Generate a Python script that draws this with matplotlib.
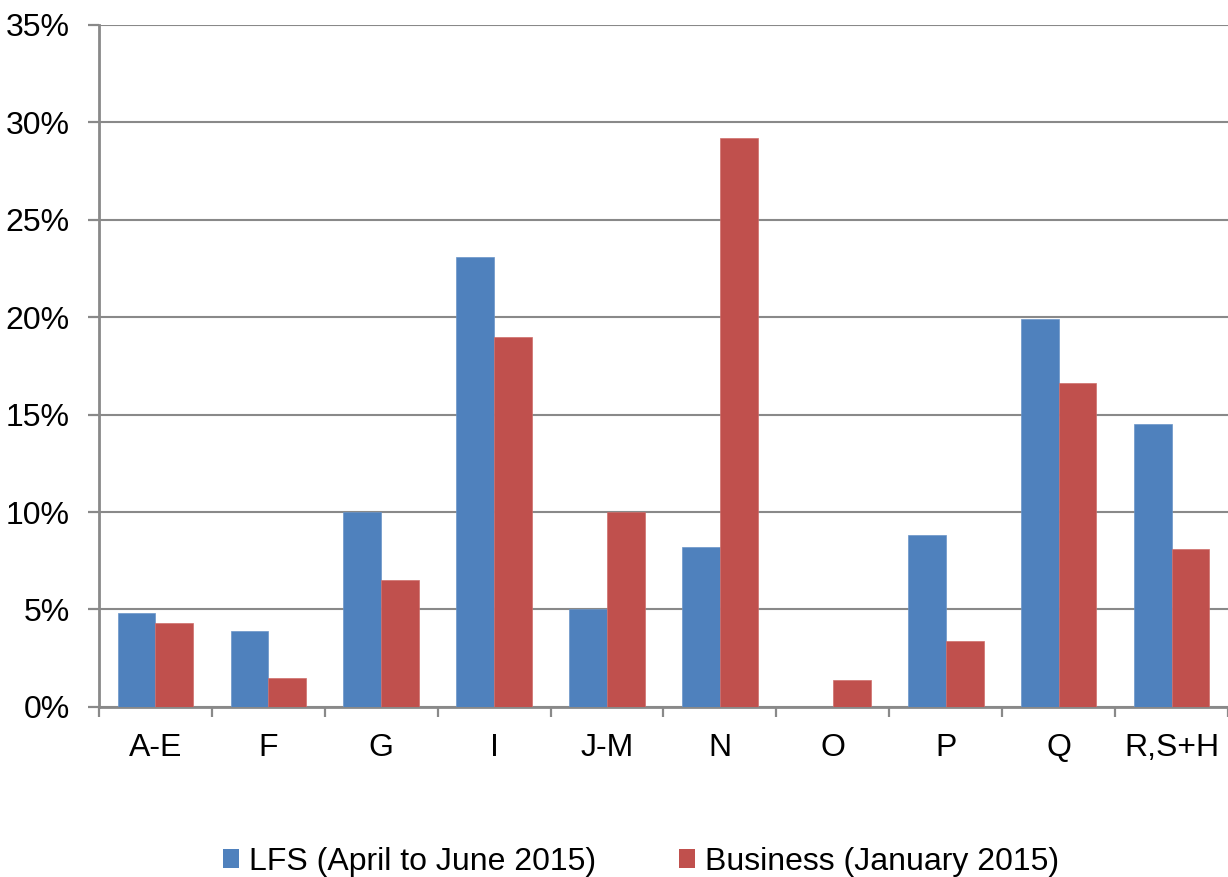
import matplotlib
matplotlib.use("Agg")
import matplotlib.pyplot as plt
import numpy as np
from matplotlib.patches import Patch
from matplotlib.ticker import FixedLocator, PercentFormatter

categories = ["A-E", "F", "G", "I", "J-M", "N", "O", "P", "Q", "R,S+H"]
lfs = [4.8, 3.9, 10.0, 23.1, 5.0, 8.2, 0.0, 8.8, 19.9, 14.5]
business = [4.3, 1.5, 6.5, 19.0, 10.0, 29.2, 1.4, 3.4, 16.6, 8.1]
series_labels = ["LFS (April to June 2015)", "Business (January 2015)"]
yticks = [0, 5, 10, 15, 20, 25, 30, 35]

plt.rcParams["font.family"] = ["Liberation Sans", "DejaVu Sans"]

BLUE = "#4F81BD"
RED = "#C0504D"
GREY = "#898989"

fig = plt.figure(figsize=(12.28, 8.77), dpi=100)
ax = fig.add_axes([0.0806, 0.194, 0.9194, 0.7775])

x = np.arange(len(categories))
w = 0.335
ax.bar(x - w / 2, lfs, w, color=BLUE, edgecolor="#6A95C8", linewidth=0.5, zorder=3)
ax.bar(x + w / 2, business, w, color=RED, edgecolor="#CF6E6B", linewidth=0.5, zorder=3)

ax.set_xlim(-0.5, len(categories) - 0.5)
ax.set_ylim(0, 35)
ax.set_yticks(yticks)
ax.yaxis.set_major_formatter(PercentFormatter(decimals=0))
ax.grid(axis="y", color=GREY, linewidth=1.5, zorder=0)

ax.set_xticks(x)
ax.set_xticklabels(categories)
ax.xaxis.set_minor_locator(FixedLocator(np.arange(len(categories) + 1) - 0.5))
ax.tick_params(axis="x", which="major", length=0, pad=19, labelsize=23)
ax.tick_params(axis="x", which="minor", length=7, width=1.6, color=GREY)
ax.tick_params(axis="y", length=8, width=1.6, color=GREY, pad=13, labelsize=23)

for side in ["top", "right"]:
    ax.spines[side].set_visible(False)
for side in ["left", "bottom"]:
    ax.spines[side].set_color(GREY)
    ax.spines[side].set_linewidth(2)

handles = [Patch(facecolor=BLUE), Patch(facecolor=RED)]
fig.legend(
    handles,
    series_labels,
    loc="center",
    bbox_to_anchor=(0.522, 0.017),
    ncol=2,
    frameon=False,
    fontsize=23,
    handlelength=0.5,
    handleheight=0.55,
    handletextpad=0.3,
    columnspacing=2.6,
    borderpad=0,
)

fig.savefig("out.png", dpi=100)
